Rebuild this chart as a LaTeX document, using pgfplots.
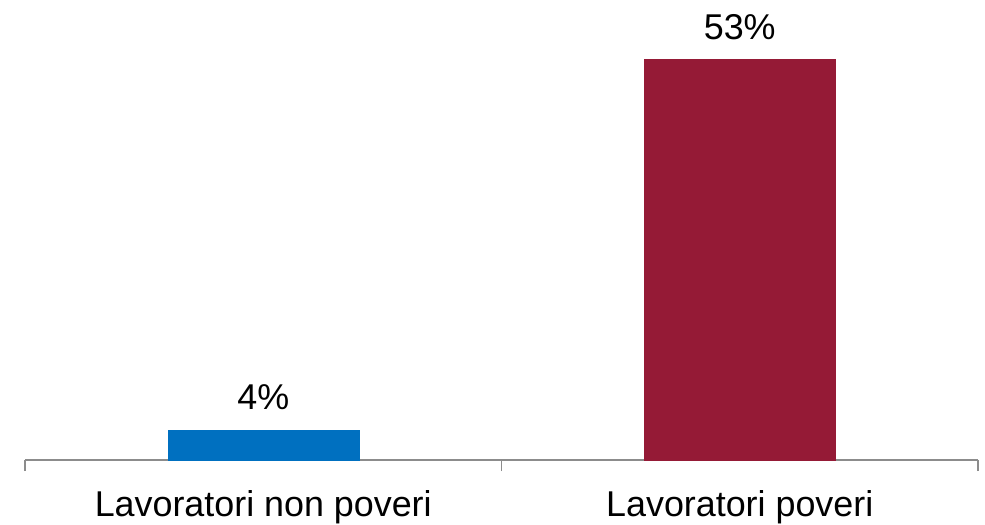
\documentclass[border=0pt]{standalone}
\usepackage{pgfplots}
\pgfplotsset{compat=1.18}
\usepackage{fontspec}
\setmainfont{Liberation Sans}
\definecolor{barblue}{HTML}{0070C0}
\definecolor{barred}{HTML}{951A36}
\definecolor{axgray}{HTML}{8C8C8C}
\begin{document}
\begin{tikzpicture}
\useasboundingbox (-25bp,-65bp) rectangle (960bp,460bp);
\begin{axis}[
  at={(0,0)}, anchor=south west,
  scale only axis,
  width=953bp, height=460bp,
  xmin=-0.5, xmax=1.5,
  ymin=0, ymax=60.8,
  axis x line*=bottom,
  axis y line=none,
  x axis line style={draw=axgray, line width=1.5bp},
  xtick={-0.5,0.5,1.5},
  xticklabels={},
  major tick length=11bp,
  tick align=outside,
  major x tick style={draw=axgray, line width=1.5bp},
  extra x ticks={0,1},
  extra x tick labels={Lavoratori non poveri, Lavoratori poveri},
  extra x tick style={major tick length=0pt,
    xticklabel style={anchor=base, yshift=-56bp, font=\fontsize{36}{43}\selectfont, text=black}},
  ybar,
  bar width=191bp,
  bar shift=0pt,
  /pgf/number format/assume math mode=true,
  nodes near coords={\pgfmathprintnumber{\pgfplotspointmeta}\%},
  every node near coord/.append style={anchor=base, yshift=20bp, font=\fontsize{36}{43}\selectfont, text=black},
  clip=false,
]
\addplot[fill=barblue, draw=barblue] coordinates {(0,4)};
\addplot[fill=barred, draw=barred] coordinates {(1,53)};
\end{axis}
\end{tikzpicture}
\end{document}
